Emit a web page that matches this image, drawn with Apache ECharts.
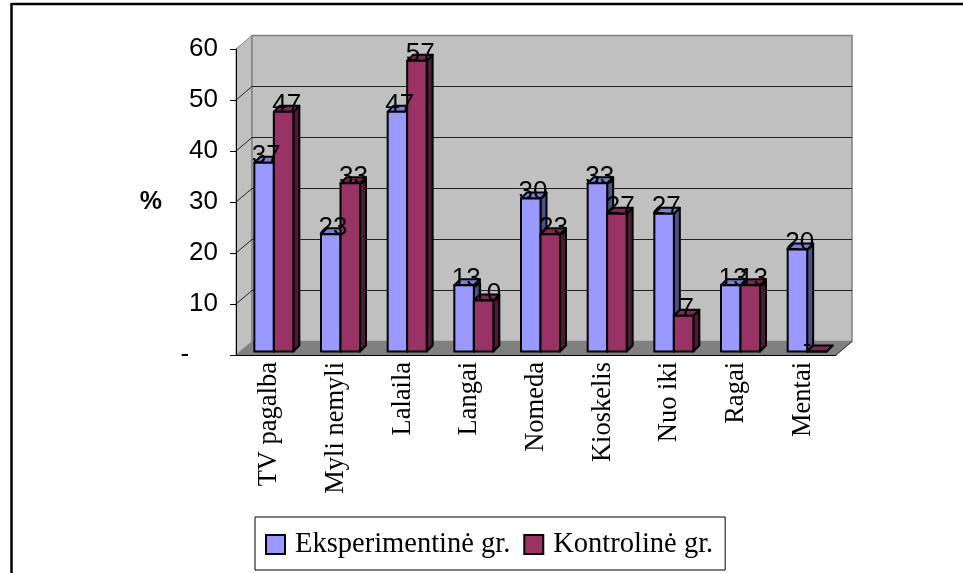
<!DOCTYPE html>
<html>
<head>
<meta charset="utf-8">
<style>
  html, body { margin: 0; padding: 0; background: #fff; }
  #chart { width: 963px; height: 573px; }
</style>
<script src="https://cdn.jsdelivr.net/npm/echarts@6/dist/echarts.min.js"></script>
</head>
<body>
<div id="chart"></div>
<script>
  var categories = ['TV pagalba', 'Myli nemyli', 'Lalaila', 'Langai', 'Nomeda', 'Kioskelis', 'Nuo iki', 'Ragai', 'Mentai'];
  var eksperimentine = [37, 23, 47, 13, 30, 33, 27, 13, 20];
  var kontroline = [47, 33, 57, 10, 23, 27, 7, 13, 0];
  var yTicks = [10, 20, 30, 40, 50, 60];

  var sansFont = '"Liberation Sans", Arial, sans-serif';
  var serifFont = '"Liberation Serif", "Times New Roman", serif';

  // 3D look: wall depth and bar depth, in px
  var wallDx = 16, wallDy = 13.5;
  var barDx = 6, barDy = 6;

  // walls, floor and gridlines
  function renderWall(params, api) {
    var cs = params.coordSys;
    var left = cs.x, right = cs.x + cs.width, top = cs.y, bottom = cs.y + cs.height;
    var y = api.coord([0, api.value(1)])[1];
    var children = [];
    if (params.dataIndex === 0) {
      children.push({
        type: 'polygon',
        shape: {points: [[left, top], [left + wallDx, top - wallDy], [left + wallDx, bottom - wallDy], [left, bottom]]},
        style: {fill: '#c0c0c0', stroke: '#808080', lineWidth: 1}
      });
      children.push({
        type: 'rect',
        shape: {x: left + wallDx, y: top - wallDy, width: cs.width, height: cs.height},
        style: {fill: '#c0c0c0', stroke: '#808080', lineWidth: 1.5}
      });
      children.push({
        type: 'polygon',
        shape: {points: [[left, bottom], [right, bottom], [right + wallDx, bottom - wallDy], [left + wallDx, bottom - wallDy]]},
        style: {fill: '#808080', stroke: '#333', lineWidth: 0}
      });
      children.push({
        type: 'line',
        shape: {x1: right, y1: bottom, x2: right + wallDx, y2: bottom - wallDy},
        style: {stroke: '#222', lineWidth: 1}
      });
    }
    if (api.value(1) < 60) {
      children.push({
        type: 'polyline',
        shape: {points: [[left, y], [left + wallDx, y - wallDy], [right + wallDx, y - wallDy]]},
        style: {fill: null, stroke: '#222', lineWidth: 1}
      });
    }
    return {type: 'group', children: children};
  }

  function makeBarRender(offLeft, offRight, front, topFace, sideFace, labelOff) {
    return function (params, api) {
      var c = api.coord([api.value(0), api.value(1)]);
      var base = api.coord([api.value(0), 0]);
      var x1 = c[0] + offLeft, x2 = c[0] + offRight;
      var yTop = c[1] - 3.5, yBase = base[1] - 3.5;
      var line = {stroke: '#000', lineWidth: 2, lineJoin: 'round'};
      var value = api.value(1);
      return {
        type: 'group',
        children: [
          {
            type: 'polygon',
            shape: {points: [[x2, yTop], [x2 + barDx, yTop - barDy], [x2 + barDx, yBase - barDy], [x2, yBase]]},
            style: Object.assign({fill: sideFace}, line)
          },
          {
            type: 'polygon',
            shape: {points: [[x1, yTop], [x1 + barDx, yTop - barDy], [x2 + barDx, yTop - barDy], [x2, yTop]]},
            style: Object.assign({fill: topFace}, line)
          },
          {
            type: 'rect',
            shape: {x: x1, y: yTop, width: x2 - x1, height: yBase - yTop},
            style: Object.assign({fill: front}, line)
          },
          {
            type: 'text',
            z2: 100,
            style: {
              // the zero label sits left of its bar in the source
              x: value === 0 ? x1 : x1 + labelOff,
              y: yTop - 6.5,
              text: value === 0 ? '-' : String(value),
              font: '26px ' + sansFont,
              fill: '#000',
              align: 'center',
              verticalAlign: 'middle'
            }
          }
        ]
      };
    };
  }

  function toPairs(arr) {
    return arr.map(function (v, i) { return [i, v]; });
  }

  var chart = echarts.init(document.getElementById('chart'), null, {renderer: 'canvas'});
  chart.setOption({
    animation: false,
    backgroundColor: '#fff',
    graphic: [
      {type: 'line', shape: {x1: 11.5, y1: 4, x2: 963, y2: 4}, style: {stroke: '#000', lineWidth: 2.5}},
      {type: 'line', shape: {x1: 11.5, y1: 3, x2: 11.5, y2: 573}, style: {stroke: '#000', lineWidth: 2.5}}
    ],
    legend: {
      left: 255,
      top: 517,
      orient: 'horizontal',
      padding: [13, 12, 11, 10],
      itemWidth: 19,
      itemHeight: 19,
      itemGap: 13,
      borderColor: '#000',
      borderWidth: 1,
      backgroundColor: '#fff',
      textStyle: {fontFamily: serifFont, fontSize: 28.5, color: '#000', padding: [0, 0, 0, 5]},
      data: [
        {name: 'Eksperimentinė gr.', icon: 'rect'},
        {name: 'Kontrolinė gr.', icon: 'rect'}
      ]
    },
    grid: {left: 236, right: 127, top: 49, bottom: 218},
    xAxis: {
      type: 'category',
      data: categories,
      z: 5,
      axisLine: {lineStyle: {color: '#000', width: 1}},
      axisTick: {length: 6, lineStyle: {color: '#000'}},
      axisLabel: {
        rotate: 90,
        interval: 0,
        margin: 7,
        color: '#000',
        fontFamily: serifFont,
        fontSize: 26.5
      }
    },
    yAxis: {
      type: 'value',
      min: 0,
      max: 60,
      interval: 10,
      z: 5,
      name: '%',
      nameLocation: 'middle',
      nameRotate: 0,
      nameGap: 74,
      nameTextStyle: {fontFamily: sansFont, fontSize: 25, fontWeight: 'bold', color: '#000'},
      splitLine: {show: false},
      axisLine: {show: true, lineStyle: {color: '#000', width: 1}},
      axisTick: {show: true, length: 6, lineStyle: {color: '#000'}},
      axisLabel: {
        margin: 18,
        color: '#000',
        fontFamily: sansFont,
        fontSize: 26,
        formatter: function (v) {
          return v === 0 ? '-\u00a0\u00a0\u00a0\u00a0' : String(v);
        }
      }
    },
    series: [
      {
        name: 'walls',
        type: 'custom',
        z: 1,
        silent: true,
        renderItem: renderWall,
        encode: {x: 0, y: 1},
        data: yTicks.map(function (v) { return [0, v]; })
      },
      {
        name: 'Eksperimentinė gr.',
        type: 'custom',
        z: 2,
        renderItem: makeBarRender(-15, 4.5, '#9999ff', '#7a7fd0', '#4d5088', 12),
        encode: {x: 0, y: 1},
        itemStyle: {color: '#9999ff', borderColor: '#000', borderWidth: 1.5},
        data: toPairs(eksperimentine)
      },
      {
        name: 'Kontrolinė gr.',
        type: 'custom',
        z: 2,
        renderItem: makeBarRender(4.5, 24, '#993366', '#7a2952', '#4d1a33', 13),
        encode: {x: 0, y: 1},
        itemStyle: {color: '#993366', borderColor: '#000', borderWidth: 1.5},
        data: toPairs(kontroline)
      }
    ]
  });
</script>
</body>
</html>
